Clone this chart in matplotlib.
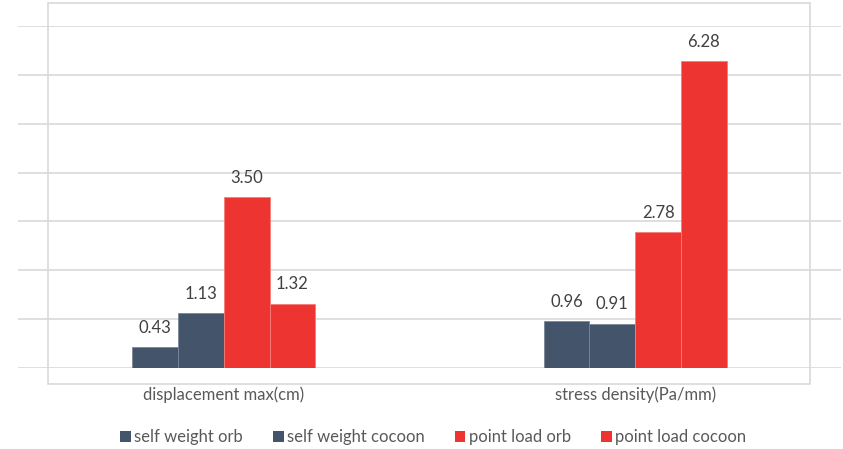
import numpy as np
import matplotlib.pyplot as plt
from matplotlib.patches import Rectangle

plt.rcParams['font.family'] = ['Lato', 'DejaVu Sans']

categories = ["displacement max(cm)", "stress density(Pa/mm)"]
series_names = ["self weight orb", "self weight cocoon", "point load orb", "point load cocoon"]
self_weight_orb = [0.43, 0.96]
self_weight_cocoon = [1.13, 0.91]
point_load_orb = [3.50, 2.78]
point_load_cocoon = [1.32, 6.28]

series = [self_weight_orb, self_weight_cocoon, point_load_orb, point_load_cocoon]
colors = ["#44546A", "#44546A", "#EE3430", "#EE3430"]
edges = ["#7A8798", "#7A8798", "#F77C78", "#F77C78"]

fig = plt.figure(figsize=(8.43, 4.49), dpi=100)
W, H = 843, 449

# outer chart frame
fig.patches.append(Rectangle((48 / W, 1 - 384 / H), (810 - 48) / W, (384 - 3) / H,
                             transform=fig.transFigure, fill=False,
                             edgecolor="#D9D9D9", linewidth=1.2, zorder=0))

ax = fig.add_axes([18 / W, 1 - 368 / H, 823 / W, (368 - 26) / H])
ax.set_xlim(-0.5, 1.5)
ax.set_ylim(0, 7)
ax.patch.set_alpha(0)
for s in ax.spines.values():
    s.set_visible(False)
ax.set_yticks(np.arange(0, 8, 1))
ax.yaxis.grid(True, color="#D9D9D9", linewidth=1.2)
ax.set_axisbelow(True)
ax.tick_params(left=False, labelleft=False, bottom=False, labelbottom=False)

x = np.arange(len(categories))
w = 0.1112
for i, (vals, name) in enumerate(zip(series, series_names)):
    pos = x + (i - 1.5) * w
    bars = ax.bar(pos, vals, w, color=colors[i], edgecolor=edges[i],
                  linewidth=0.6, label=name, zorder=2)
    for b, v in zip(bars, vals):
        ax.annotate(f"{v:.2f}", (b.get_x() + b.get_width() / 2, v),
                    xytext=(0, 8), textcoords="offset points",
                    ha="center", va="bottom", fontsize=12, color="#404040")

for xi, c in zip(x, categories):
    ax.text(xi, -0.55, c, ha="center", va="center", fontsize=12,
            color="#595959", transform=ax.transData, clip_on=False)

leg = fig.legend(loc="center", bbox_to_anchor=(433 / W, 1 - 437 / H), ncol=4,
                 frameon=False, fontsize=12, handlelength=0.65,
                 handleheight=0.65, handletextpad=0.2, columnspacing=1.8)
for t in leg.get_texts():
    t.set_color("#595959")
for h in leg.legend_handles:
    h.set_edgecolor("none")

fig.savefig("out.png", dpi=100)
